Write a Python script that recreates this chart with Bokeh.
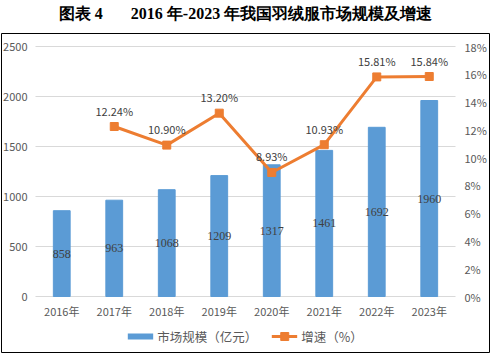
from bokeh.plotting import figure
from bokeh.models import (ColumnDataSource, Range1d, FactorRange, LinearAxis, Legend, LegendItem,
                          PrintfTickFormatter, FixedTicker)
from bokeh.layouts import column
from bokeh.core.properties import value
from bokeh.embed import file_html
from bokeh.resources import INLINE

# ---- data ----
years = ["2016年", "2017年", "2018年", "2019年", "2020年", "2021年", "2022年", "2023年"]
market = [858, 963, 1068, 1209, 1317, 1461, 1692, 1960]
growth_years = ["2017年", "2018年", "2019年", "2020年", "2021年", "2022年", "2023年"]
growth = [12.24, 10.90, 13.20, 8.93, 10.93, 15.81, 15.84]
market_ticks = [0, 500, 1000, 1500, 2000, 2500]
growth_ticks = [0, 2, 4, 6, 8, 10, 12, 14, 16, 18]
title_text = "图表 4\u00a0\u00a0\u00a0\u00a0\u00a0\u00a0 2016 年-2023 年我国羽绒服市场规模及增速"
legend_bar = "市场规模（亿元）"
legend_line = "增速（%）"

FONT = "Noto Sans CJK SC"
GRAY = "#595959"
DARK = "#404040"
BLUE = "#5b9bd5"
ORANGE = "#ed7d31"
GRID = "#d9d9d9"

# ---- geometry (pixels) ----
BOX_W, BOX_H = 490, 321          # bordered chart box
FW, FH = BOX_W - 2, BOX_H - 2    # frame inside the 1px outline
CHART_W, CHART_H = 420, 250      # plotting area of bars / line
TOP_GAP = 13
BOTTOM_GAP = FH - TOP_GAP - CHART_H
YMAX, PMAX = market_ticks[-1], growth_ticks[-1]

# ---- title strip ----
t = figure(width=BOX_W, height=26, output_backend="svg", toolbar_location=None,
           x_range=Range1d(0, 1), y_range=Range1d(0, 1), min_border=0)
t.axis.visible = False
t.grid.visible = False
t.outline_line_color = None
t.text(x=[0.5], y=[0.5], text=[title_text], text_align="center", text_baseline="middle",
       text_font=value("Liberation Serif"), text_font_size="16px", text_font_style="bold",
       text_color="#000000")

# ---- main chart: frame covers the whole box, axes at fixed locations ----
u = YMAX / CHART_H
pu = PMAX / CHART_H
pad = ((FW - CHART_W) / 2) / (CHART_W / len(years))

bar_src = ColumnDataSource(dict(x=years, y=market, ymid=[v / 2 for v in market],
                                lab=[str(v) for v in market]))
line_src = ColumnDataSource(dict(x=growth_years, y=growth,
                                 lab=["%.2f%%" % g for g in growth]))

p = figure(width=BOX_W, height=BOX_H,
           x_range=FactorRange(factors=years, range_padding=pad, range_padding_units="absolute"),
           y_range=Range1d(-BOTTOM_GAP * u, YMAX + TOP_GAP * u),
           output_backend="svg", toolbar_location=None, min_border=1)
p.extra_y_ranges = {"pct": Range1d(-BOTTOM_GAP * pu, PMAX + TOP_GAP * pu)}
p.outline_line_color = "#000000"
p.outline_line_width = 1
p.grid.visible = False
p.margin = (6, 0, 0, 0)

# left axis: labels plus its inward ticks serve as the horizontal gridlines
ya = p.yaxis[0]
ya.ticker = FixedTicker(ticks=market_ticks)
ya.fixed_location = 0
ya.level = "underlay"
ya.axis_line_color = None
ya.major_tick_in = CHART_W
ya.major_tick_out = 0
ya.major_tick_line_color = GRID
ya.minor_tick_line_color = None
ya.major_label_text_font = FONT
ya.major_label_text_font_size = "11px"
ya.major_label_text_color = GRAY
ya.major_label_standoff = 8

ra = LinearAxis(y_range_name="pct", ticker=FixedTicker(ticks=growth_ticks),
                formatter=PrintfTickFormatter(format="%d%%"), fixed_location=float(len(years)))
ra.axis_line_color = None
ra.major_tick_in = 0
ra.major_tick_out = 0
ra.major_tick_line_color = None
ra.minor_tick_line_color = None
ra.major_label_text_font = FONT
ra.major_label_text_font_size = "11px"
ra.major_label_text_color = GRAY
ra.major_label_standoff = 9
p.add_layout(ra, "right")

xa = p.xaxis[0]
xa.fixed_location = 0
xa.axis_line_color = None
xa.major_tick_line_color = None
xa.minor_tick_line_color = None
xa.major_label_text_font = FONT
xa.major_label_text_font_size = "11px"
xa.major_label_text_color = GRAY
xa.major_label_standoff = 0

bars = p.vbar(x="x", top="y", width=0.32, source=bar_src, color=BLUE)
p.text(x="x", y="ymid", text="lab", source=bar_src, text_align="center", text_baseline="middle",
       text_font=value("Liberation Serif"), text_font_size="12px", text_color=DARK)

ln = p.line(x="x", y="y", source=line_src, y_range_name="pct", color=ORANGE, line_width=3)
mk = p.scatter(x="x", y="y", source=line_src, y_range_name="pct", marker="square", size=8,
               color=ORANGE)
p.text(x="x", y="y", text="lab", source=line_src, y_range_name="pct", text_align="center",
       text_baseline="middle", y_offset=-16, text_font=value(FONT), text_font_size="11px",
       text_color=DARK)

# legend swatch for the bars (off-screen line, thick blue band)
swatch = p.line(x=years[:2], y=[-1e7, -1e7], color=BLUE, line_width=6)

legend = Legend(items=[LegendItem(label=legend_bar, renderers=[swatch]),
                       LegendItem(label=legend_line, renderers=[ln, mk])],
                orientation="horizontal", location="bottom_center")
legend.border_line_color = None
legend.background_fill_alpha = 0
legend.label_text_font = FONT
legend.label_text_font_size = "12.5px"
legend.label_text_color = GRAY
legend.glyph_width = 26
legend.glyph_height = 20
legend.spacing = 14
legend.label_standoff = 4
legend.padding = 0
legend.margin = 6
p.add_layout(legend, "center")

layout = column(t, p, spacing=0)
open("out.html", "w").write(file_html(layout, INLINE))
